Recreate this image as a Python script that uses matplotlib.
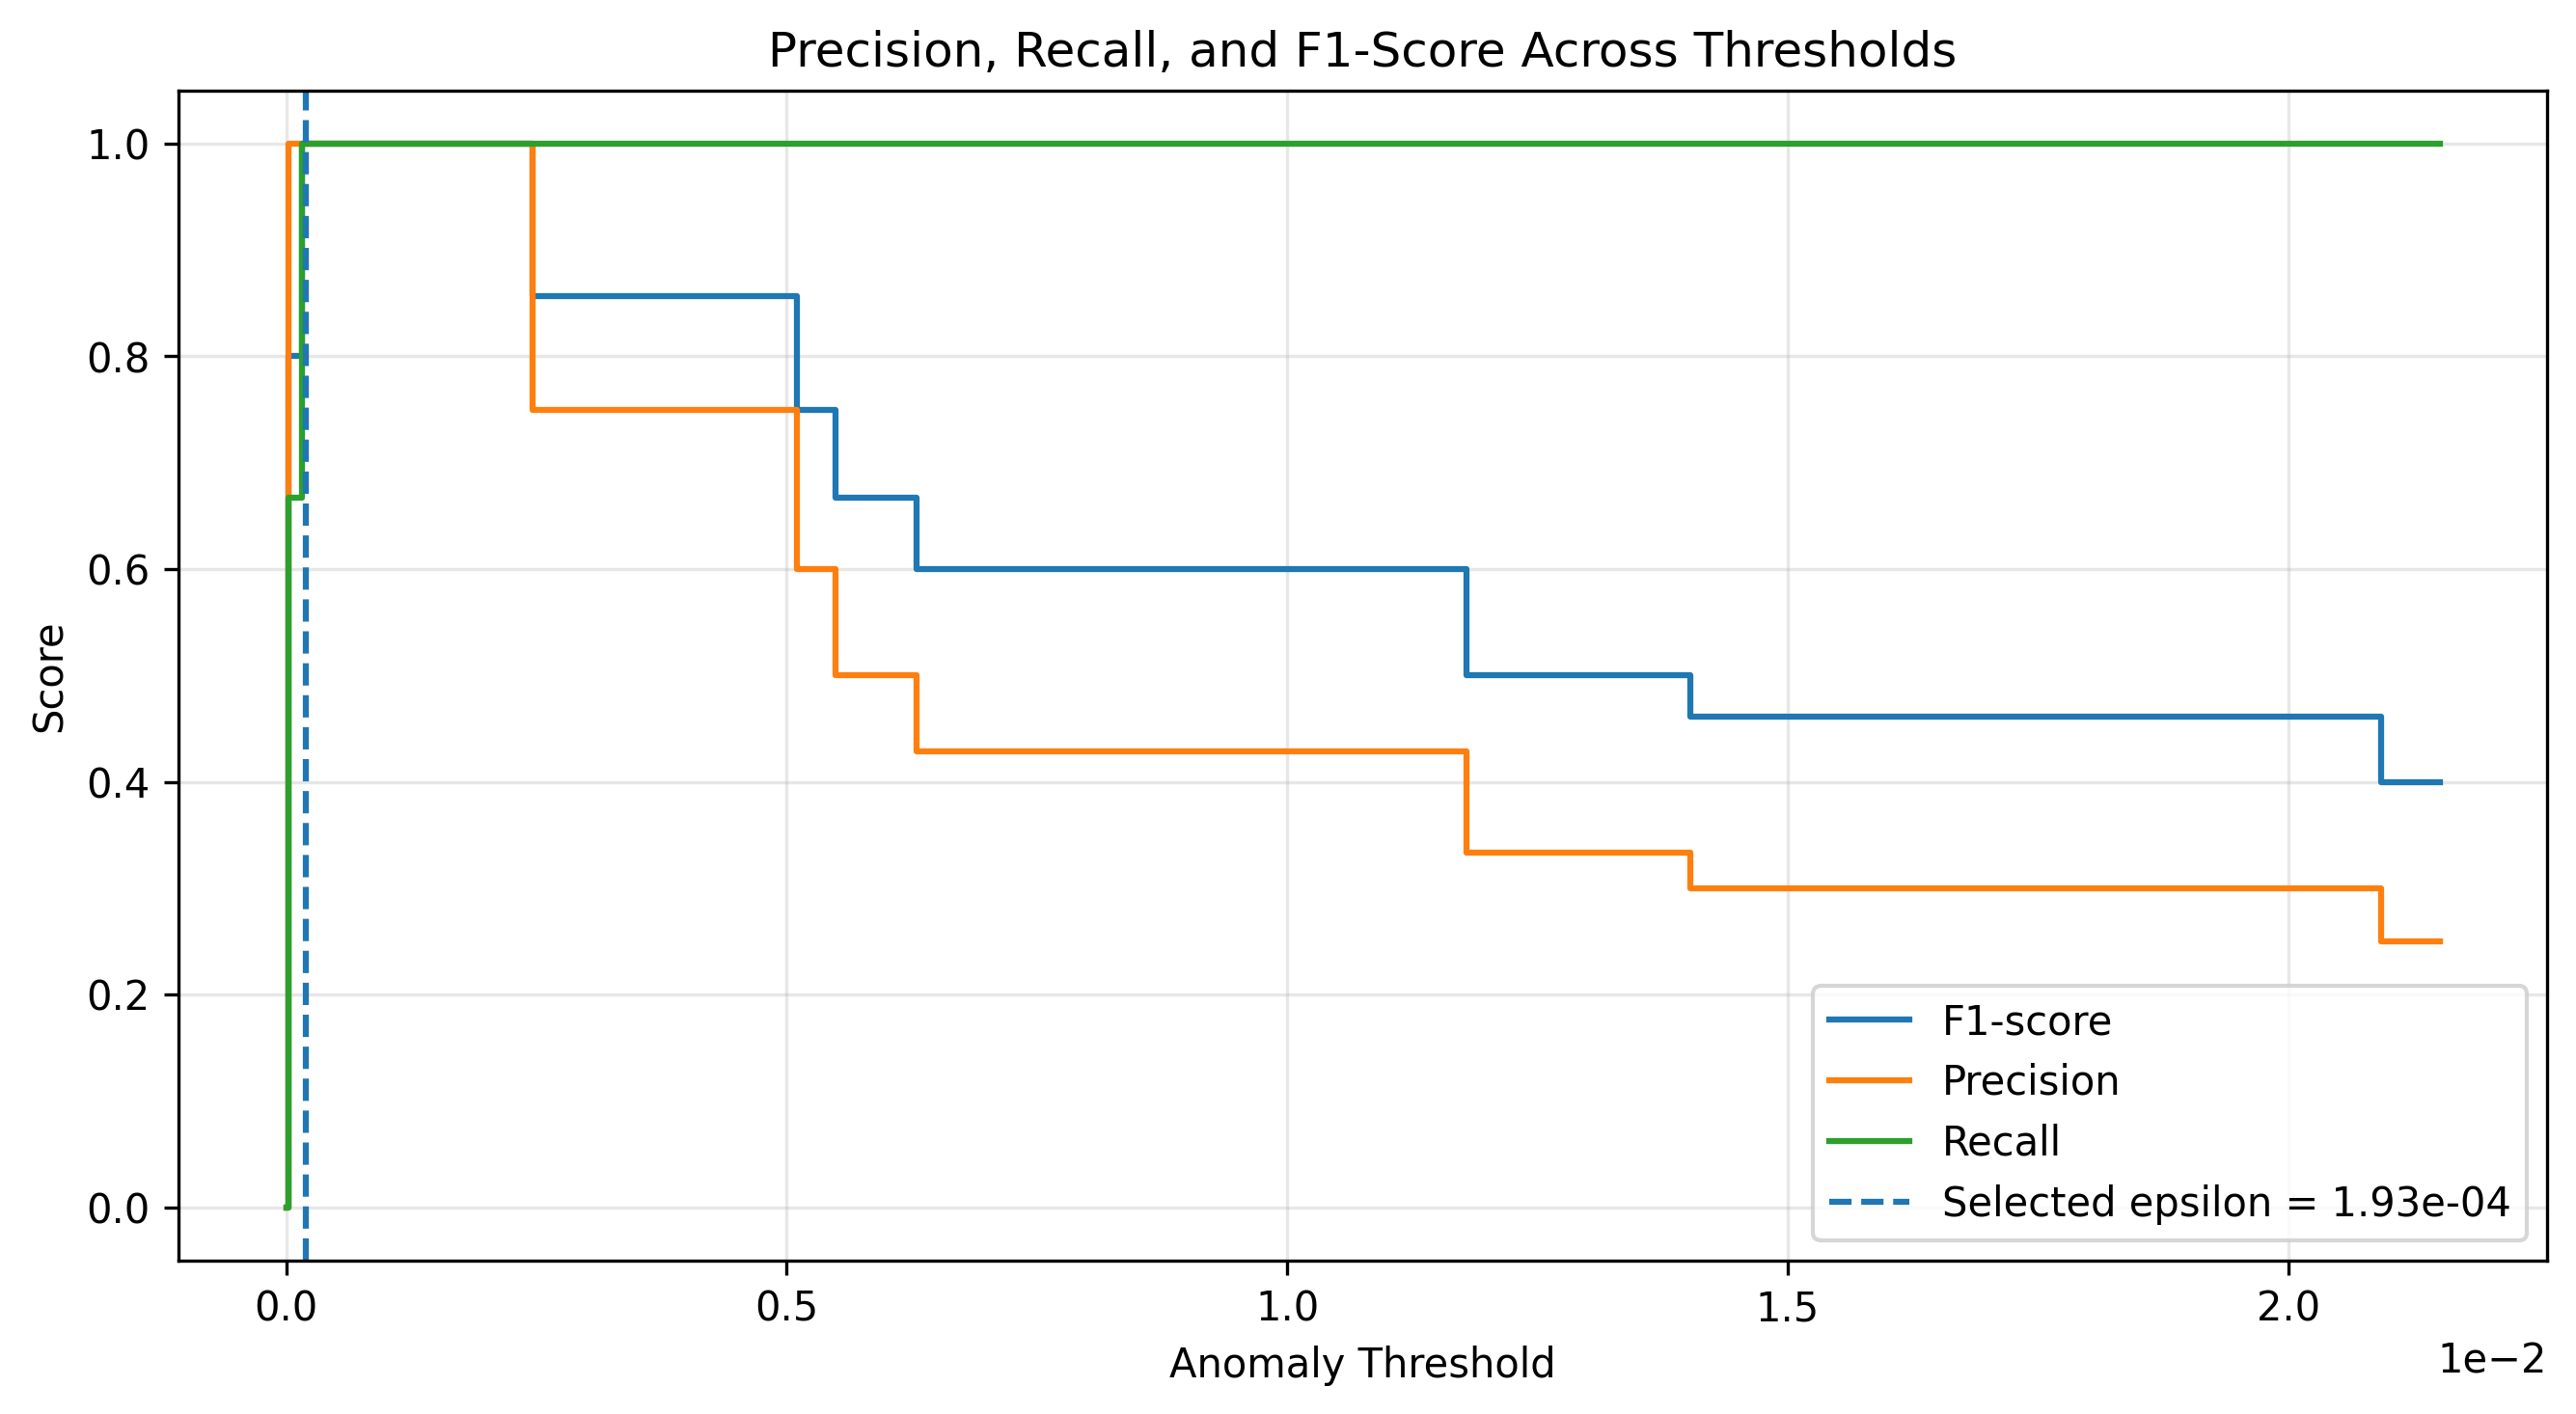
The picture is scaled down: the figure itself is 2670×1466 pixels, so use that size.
import numpy as np
import matplotlib
matplotlib.use("Agg")
from matplotlib import pyplot as plt

# threshold sweep (x in raw units, axis shows 1e-2 offset)
thresholds = [0.0, 0.00002, 0.00016, 0.00246, 0.00510, 0.00549,
              0.00630, 0.01179, 0.01403, 0.02093, 0.02151]
f1_score  = [0.0, 0.8, 1.0, 0.857, 0.75, 0.667, 0.6, 0.5, 0.4615, 0.4, 0.4]
precision = [0.0, 1.0, 1.0, 0.75, 0.6, 0.5, 0.4286, 0.3333, 0.3, 0.25, 0.25]
recall    = [0.0, 0.667, 1.0, 1.0, 1.0, 1.0, 1.0, 1.0, 1.0, 1.0, 1.0]
epsilon = 1.93e-4

fig = plt.figure(figsize=(8.9, 4.887), dpi=300)
ax = fig.add_subplot(111)
fig.subplots_adjust(left=0.0693, right=0.9888, top=0.936, bottom=0.1085)

ax.plot(thresholds, f1_score, drawstyle='steps-post', label='F1-score')
ax.plot(thresholds, precision, drawstyle='steps-post', label='Precision')
ax.plot(thresholds, recall, drawstyle='steps-post', label='Recall')
ax.axvline(epsilon, linestyle='--', label=f'Selected epsilon = {epsilon:.2e}')

ax.ticklabel_format(axis='x', style='sci', scilimits=(0, 0))
ax.set_xlabel('Anomaly Threshold')
ax.set_ylabel('Score')
ax.set_title('Precision, Recall, and F1-Score Across Thresholds')
ax.legend(loc='lower right')
ax.grid(True, alpha=0.3)

fig.savefig('out.png', dpi=300)
